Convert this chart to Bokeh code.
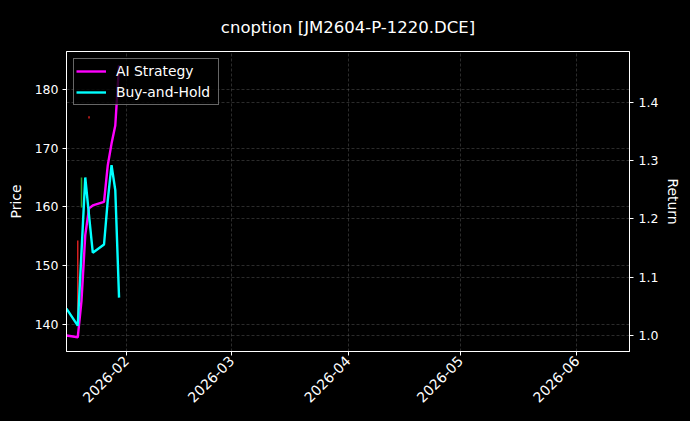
from math import pi
import numpy as np
from bokeh.plotting import figure
from bokeh.models import (Range1d, LinearAxis, FixedTicker, DatetimeTickFormatter,
                          PrintfTickFormatter, Grid, Legend, LegendItem)
from bokeh.embed import file_html
from bokeh.resources import INLINE

# ---------------- data ----------------
dates = ["2026-01-16", "2026-01-19", "2026-01-20", "2026-01-21", "2026-01-22",
         "2026-01-23", "2026-01-26", "2026-01-27", "2026-01-28", "2026-01-29",
         "2026-01-30"]
ai_strategy = [1.000, 0.997, 1.060, 1.172, 1.218, 1.223, 1.229, 1.292, 1.329, 1.360, 1.463]
buy_and_hold = [1.046, 1.017, 1.144, 1.271, 1.206, 1.142, 1.156, 1.232, 1.292, 1.249, 1.065]

candle_dates = ["2026-01-19", "2026-01-20", "2026-01-22"]
candle_open = [154.3, 159.9, 175.4]
candle_close = [140.2, 165.0, 175.0]
candle_high = [154.3, 165.0, 175.4]
candle_low = [140.2, 159.9, 175.0]

x_tick_dates = ["2026-02-01", "2026-03-01", "2026-04-01", "2026-05-01", "2026-06-01"]
price_ticks = [140, 150, 160, 170, 180]
return_ticks = [1.0, 1.1, 1.2, 1.3, 1.4]

x_limits = ["2026-01-16", "2026-06-15"]
price_limits = [135.5, 186.36]
return_limits = [0.9726, 1.4869]

title_text = "cnoption [JM2604-P-1220.DCE]"


def ms(seq):
    return [float(np.datetime64(s, "ms").astype(np.int64)) for s in seq]


FONT = "DejaVu Sans"
GRID_COLOR = "#707070"

p = figure(width=690, height=415, x_axis_type="datetime",
           output_backend="svg", toolbar_location=None,
           x_range=Range1d(*ms(x_limits)),
           y_range=Range1d(*price_limits),
           min_border_left=66, min_border_right=61,
           min_border_top=51, min_border_bottom=64)

p.background_fill_color = "black"
p.border_fill_color = "black"
p.outline_line_color = "white"
p.outline_line_width = 1

p.title.text = title_text
p.title.align = "center"
p.title.vertical_align = "bottom"
p.title.text_color = "white"
p.title.text_font = FONT
p.title.text_font_size = "16.5px"
p.title.text_font_style = "normal"
p.title.standoff = 30

p.extra_y_ranges = {"ret": Range1d(*return_limits)}

# candles (price axis)
c_colors = ["#d62020" if c < o else "#2ca02c" for o, c in zip(candle_open, candle_close)]
p.segment(x0=ms(candle_dates), y0=candle_low, x1=ms(candle_dates), y1=candle_high,
          line_color=c_colors, line_width=1.5)

# return lines
r_ai = p.line(ms(dates), ai_strategy, line_color="#ff00ff", line_width=2.4,
              y_range_name="ret")
r_bh = p.line(ms(dates), buy_and_hold, line_color="#00ffff", line_width=2.4,
              y_range_name="ret")

# axes
def style_axis(ax, label_size="12.5px"):
    ax.axis_line_color = "white"
    ax.major_tick_line_color = "white"
    ax.major_tick_out = 4
    ax.major_tick_in = 0
    ax.minor_tick_line_color = None
    ax.major_label_text_color = "white"
    ax.major_label_text_font = FONT
    ax.major_label_text_font_size = label_size
    ax.axis_label_text_color = "white"
    ax.axis_label_text_font = FONT
    ax.axis_label_text_font_size = "13.9px"
    ax.axis_label_text_font_style = "normal"

xa = p.xaxis[0]
xa.ticker = FixedTicker(ticks=ms(x_tick_dates))
xa.formatter = DatetimeTickFormatter(years="%Y-%m", months="%Y-%m", days="%Y-%m",
                                     hours="%Y-%m", hourmin="%Y-%m", minutes="%Y-%m",
                                     minsec="%Y-%m", seconds="%Y-%m", milliseconds="%Y-%m",
                                     microseconds="%Y-%m")
xa.major_label_orientation = pi / 4
xa.major_label_standoff = 3
style_axis(xa, "14px")

ya = p.yaxis[0]
ya.ticker = FixedTicker(ticks=price_ticks)
ya.axis_label = "Price"
ya.major_label_standoff = 4
ya.axis_label_standoff = 8
style_axis(ya)

ra = LinearAxis(y_range_name="ret", axis_label="Return",
                ticker=FixedTicker(ticks=return_ticks),
                formatter=PrintfTickFormatter(format="%.1f"))
ra.major_label_standoff = 5
ra.axis_label_standoff = 4
style_axis(ra)
p.add_layout(ra, "right")

# grids
for g in p.grid:
    g.grid_line_color = GRID_COLOR
    g.grid_line_alpha = 0.65
    g.grid_line_dash = "3 2"
    g.grid_line_width = 0.6
p.xgrid[0].ticker = xa.ticker
p.ygrid[0].ticker = ya.ticker
rgrid = Grid(dimension=1, ticker=ra.ticker, y_range_name="ret",
             grid_line_color=GRID_COLOR, grid_line_alpha=0.65,
             grid_line_dash="3 2", grid_line_width=0.6)
p.add_layout(rgrid)

legend = Legend(items=[LegendItem(label="AI Strategy", renderers=[r_ai]),
                       LegendItem(label="Buy-and-Hold", renderers=[r_bh])],
                location="top_left")
legend.background_fill_color = "black"
legend.background_fill_alpha = 0.8
legend.border_line_color = "#cccccc"
legend.border_line_width = 1
legend.label_text_color = "white"
legend.label_text_font = FONT
legend.label_text_font_size = "13.9px"
legend.glyph_width = 30
legend.glyph_height = 20
legend.label_standoff = 10
legend.padding = 2
legend.spacing = 1
legend.margin = 7
legend.label_width = 100
p.add_layout(legend)

html = file_html(p, INLINE, title=title_text)
html = html.replace("<head>", "<head><style>html,body{background:#000000;}</style>", 1)
open("out.html", "w").write(html)
